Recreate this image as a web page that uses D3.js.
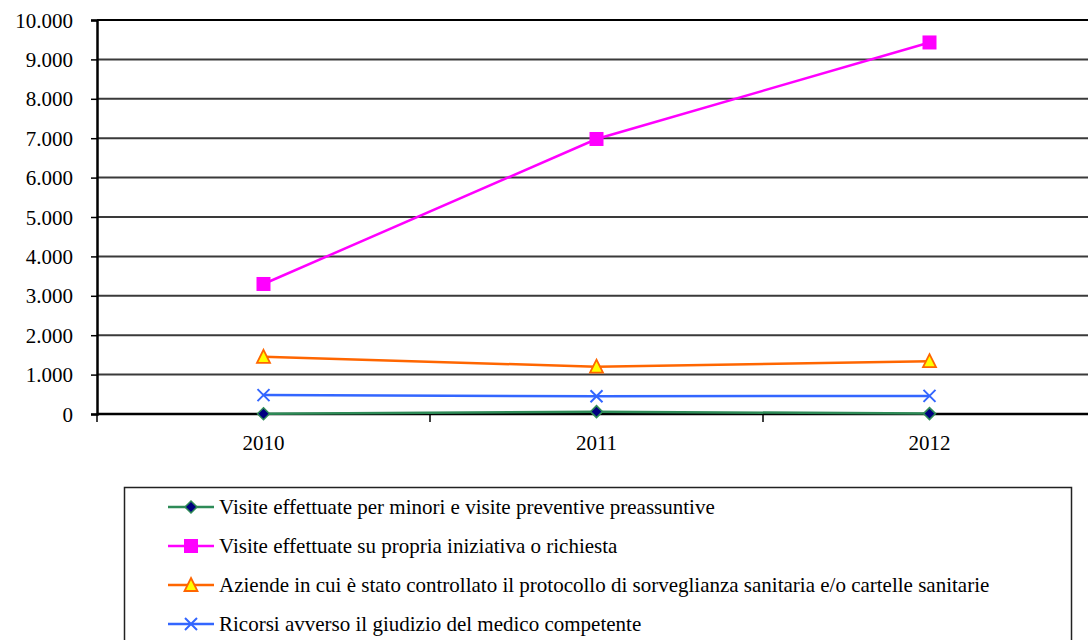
<!DOCTYPE html>
<html>
<head>
<meta charset="utf-8">
<script src="https://cdn.jsdelivr.net/npm/d3@7"></script>
</head>
<body style="margin:0">
<svg id="chart" width="1088" height="640"></svg>
<script>
// Anni
const years = ["2010", "2011", "2012"];

// Serie
const visiteMinori   = [5, 60, 10];
const visiteRichiesta = [3300, 6980, 9430];
const aziendeControllate = [1450, 1200, 1340];
const ricorsi = [480, 450, 460];

const seriesNames = [
  "Visite effettuate per minori e visite preventive preassuntive",
  "Visite effettuate su propria iniziativa o richiesta",
  "Aziende in cui è stato controllato il protocollo di sorveglianza sanitaria e/o cartelle sanitarie",
  "Ricorsi avverso il giudizio del medico competente"
];

const yTicks = [0, 1000, 2000, 3000, 4000, 5000, 6000, 7000, 8000, 9000, 10000];

const series = [
  { name: seriesNames[0], values: visiteMinori, line: "#2E8B57", marker: "diamond", fill: "#000080", stroke: "#2E8B57" },
  { name: seriesNames[1], values: visiteRichiesta, line: "#FF00FF", marker: "square", fill: "#FF00FF", stroke: "#FF00FF" },
  { name: seriesNames[2], values: aziendeControllate, line: "#FF6600", marker: "triangle", fill: "#FFFF00", stroke: "#FF6600" },
  { name: seriesNames[3], values: ricorsi, line: "#3366FF", marker: "cross", fill: "none", stroke: "#3366FF" }
];

const FONT = '"Liberation Serif"';
const FSIZE = "21px";
const it = d3.formatLocale({ decimal: ",", thousands: ".", grouping: [3], currency: ["€", ""] });
const fmt = it.format(",d");

const svg = d3.select("#chart");
const plotLeft = 97, plotTop = 20, plotBottom = 414, bandRight = 1096;

const x = d3.scaleBand().domain(years).range([plotLeft, bandRight]).padding(0);
const y = d3.scaleLinear().domain([0, 10000]).range([plotBottom, plotTop]);

// Griglia orizzontale
svg.append("g").selectAll("line").data(yTicks.filter(d => d > 0)).join("line")
  .attr("x1", plotLeft).attr("x2", 1088)
  .attr("y1", d => y(d)).attr("y2", d => y(d))
  .attr("stroke", d => d === 10000 ? "#000" : "#3a3a3a")
  .attr("stroke-width", 2);

// Asse Y
const yAxis = svg.append("g").attr("transform", `translate(${plotLeft},0)`)
  .call(d3.axisLeft(y).tickValues(yTicks).tickFormat(fmt).tickSize(6).tickPadding(18))
  .attr("font-family", null).attr("font-size", null);
yAxis.select(".domain").attr("stroke", "#000").attr("stroke-width", 2.5);
yAxis.selectAll(".tick line").attr("stroke", "#000").attr("stroke-width", 1.5);
yAxis.selectAll(".tick text").attr("dy", "0.34em")
  .style("font-family", FONT).style("font-size", FSIZE);

// Asse X con tacche ai bordi delle categorie
const xAxis = svg.append("g").attr("transform", `translate(0,${plotBottom})`);
xAxis.append("line").attr("x1", plotLeft).attr("x2", 1088).attr("y1", 0).attr("y2", 0)
  .attr("stroke", "#000").attr("stroke-width", 2.5);
xAxis.selectAll("line.tk").data(years).join("line").attr("class", "tk")
  .attr("x1", d => x(d)).attr("x2", d => x(d)).attr("y1", 0).attr("y2", 8)
  .attr("stroke", "#000").attr("stroke-width", 1.5);
xAxis.selectAll("text").data(years).join("text")
  .attr("x", d => x(d) + x.bandwidth() / 2).attr("y", 36)
  .attr("text-anchor", "middle")
  .style("font-family", FONT).style("font-size", FSIZE).text(d => d);

const cx = d => x(d) + x.bandwidth() / 2;

function drawMarker(g, type, fill, stroke) {
  if (type === "diamond") {
    g.append("path").attr("d", "M0,-6L6,0L0,6L-6,0Z").attr("fill", fill).attr("stroke", stroke).attr("stroke-width", 1.5);
  } else if (type === "square") {
    g.append("rect").attr("x", -7).attr("y", -7).attr("width", 14).attr("height", 14).attr("fill", fill);
  } else if (type === "triangle") {
    g.append("path").attr("d", "M0,-7L6.5,6L-6.5,6Z").attr("fill", fill).attr("stroke", stroke).attr("stroke-width", 1.8);
  } else if (type === "cross") {
    g.append("path").attr("d", "M-6,-6L6,6M-6,6L6,-6").attr("stroke", stroke).attr("stroke-width", 2).attr("fill", "none");
  }
}

// Linee e marcatori
const line = d3.line().x((d, i) => cx(years[i])).y(d => y(d));
const plot = svg.append("g");
[0, 3, 2, 1].forEach(k => {
  const s = series[k];
  plot.append("path").datum(s.values).attr("d", line)
    .attr("fill", "none").attr("stroke", s.line).attr("stroke-width", 2.5);
  s.values.forEach((v, i) => {
    const g = plot.append("g").attr("transform", `translate(${cx(years[i])},${y(v)})`);
    drawMarker(g, s.marker, s.fill, s.stroke);
  });
});

// Legenda
const legend = svg.append("g");
legend.append("rect").attr("x", 124.5).attr("y", 487.5).attr("width", 947).attr("height", 200)
  .attr("fill", "#fff").attr("stroke", "#222").attr("stroke-width", 1.5);
const rowY = [507, 546, 585, 624];
series.forEach((s, i) => {
  const g = legend.append("g").attr("transform", `translate(0,${rowY[i]})`);
  g.append("line").attr("x1", 168).attr("x2", 214).attr("y1", 0).attr("y2", 0)
    .attr("stroke", s.line).attr("stroke-width", 2.5);
  const m = g.append("g").attr("transform", "translate(191,0)");
  drawMarker(m, s.marker, s.fill, s.stroke);
  g.append("text").attr("x", 219).attr("y", 0).attr("dy", "0.32em")
    .style("font-family", FONT).style("font-size", FSIZE).text(s.name);
});
</script>
</body>
</html>
